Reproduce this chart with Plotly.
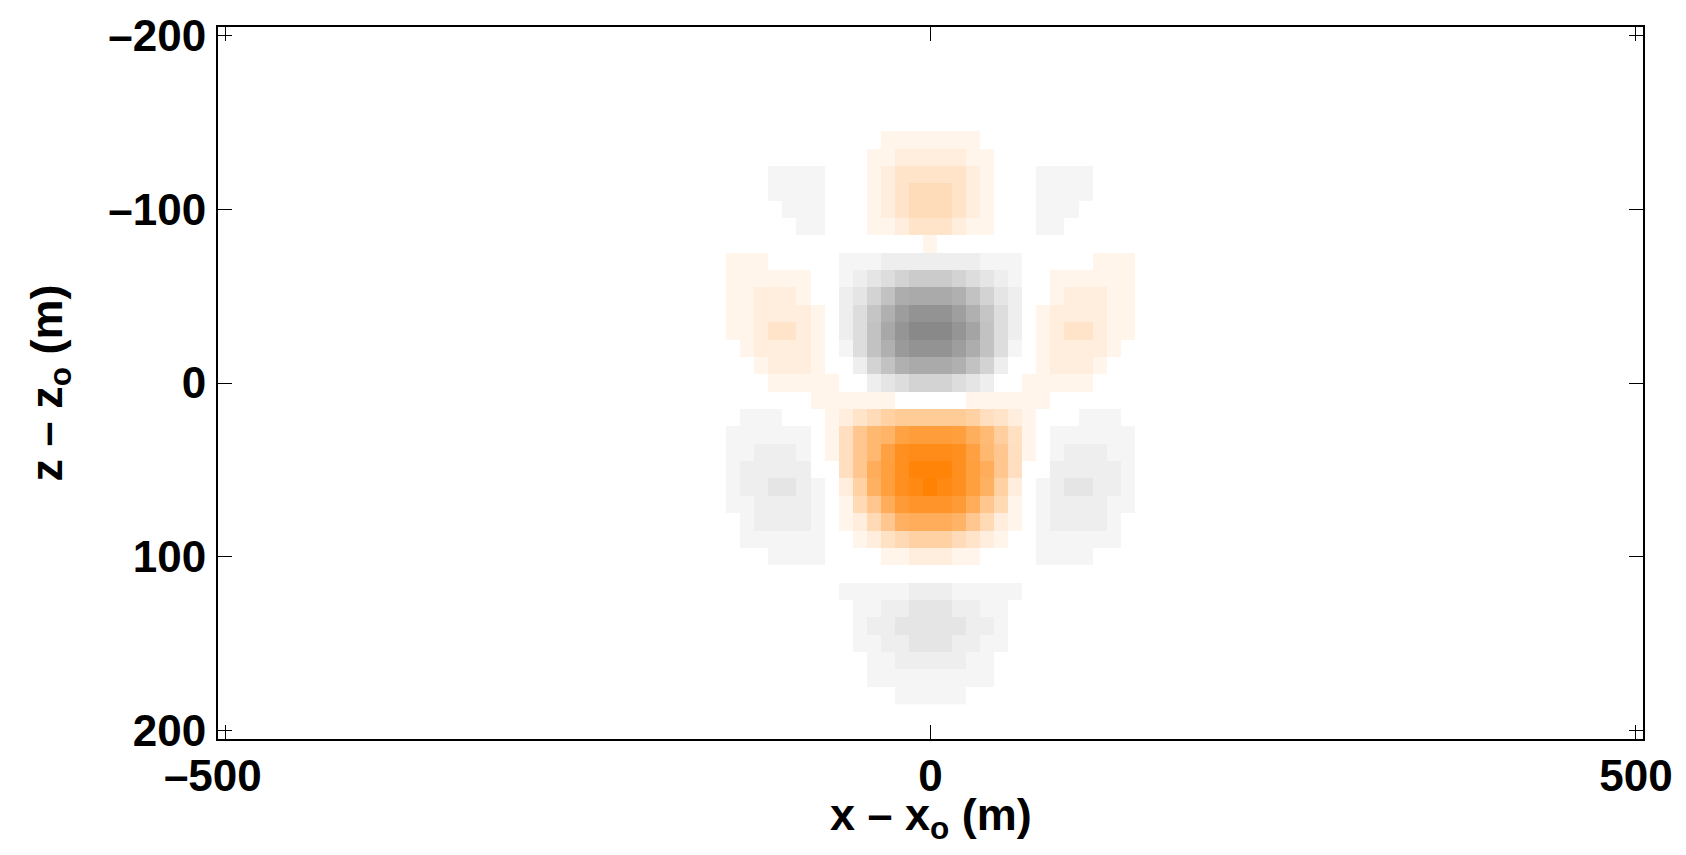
import plotly.graph_objects as go

# Colour level of each cell: positive = orange lobes, negative = grey lobes, 0 = blank
x_cells = [-140, -130, -120, -110, -100, -90, -80, -70, -60, -50, -40, -30, -20, -10, 0,
           10, 20, 30, 40, 50, 60, 70, 80, 90, 100, 110, 120, 130, 140]
z_cells = [-140, -130, -120, -110, -100, -90, -80, -70, -60, -50, -40, -30, -20, -10, 0, 10, 20,
           30, 40, 50, 60, 70, 80, 90, 100, 110, 120, 130, 140, 150, 160, 170, 180]
levels = [
 [0,0,0,0,0,0,0,0,0,0,0,10,10,10,10,10,10,10,0,0,0,0,0,0,0,0,0,0,0],
 [0,0,0,0,0,0,0,0,0,0,10,10,17,17,17,17,17,10,10,0,0,0,0,0,0,0,0,0,0],
 [0,0,0,-10,-10,-10,-10,0,0,0,10,17,27,27,27,27,27,17,10,0,0,0,-10,-10,-10,-10,0,0,0],
 [0,0,0,-10,-10,-10,-10,0,0,0,10,17,27,35,35,35,27,17,10,0,0,0,-10,-10,-10,-10,0,0,0],
 [0,0,0,0,-10,-10,-10,0,0,0,10,17,27,35,35,35,27,17,10,0,0,0,-10,-10,-10,0,0,0,0],
 [0,0,0,0,0,-10,-10,0,0,0,10,10,17,27,27,27,17,10,10,0,0,0,-10,-10,0,0,0,0,0],
 [0,0,0,0,0,0,0,0,0,0,0,0,0,0,10,0,0,0,0,0,0,0,0,0,0,0,0,0,0],
 [10,10,10,0,0,0,0,0,-10,-10,-10,-17,-17,-17,-17,-17,-17,-17,-10,-10,-10,0,0,0,0,0,10,10,10],
 [10,10,10,10,10,10,0,0,-10,-17,-26,-34,-44,-52,-52,-52,-44,-34,-26,-17,-10,0,0,10,10,10,10,10,10],
 [10,10,17,17,17,10,0,0,-17,-26,-44,-61,-82,-85,-85,-85,-79,-61,-44,-26,-17,0,0,10,17,17,17,10,10],
 [10,10,17,17,17,17,10,0,-17,-34,-58,-79,-98,-108,-108,-108,-96,-79,-58,-34,-17,0,10,17,17,17,17,10,10],
 [10,10,17,27,27,17,10,0,-17,-34,-61,-87,-106,-118,-118,-118,-106,-91,-61,-34,-17,0,10,17,27,27,17,10,10],
 [0,10,17,17,17,17,10,0,-10,-34,-61,-79,-101,-108,-108,-108,-97,-82,-61,-34,-10,0,10,17,17,17,17,10,0],
 [0,0,10,17,17,17,10,0,0,-17,-44,-61,-79,-85,-85,-85,-79,-61,-44,-17,0,0,10,17,17,17,10,0,0],
 [0,0,0,10,10,10,10,10,0,0,-17,-26,-34,-44,-44,-44,-34,-26,-17,0,0,10,10,10,10,10,0,0,0],
 [0,0,0,0,0,0,10,10,10,10,10,10,0,0,0,0,0,10,10,10,10,10,10,0,0,0,0,0,0],
 [0,-10,-10,-10,0,0,0,10,17,27,35,46,52,52,52,52,52,46,32,27,17,10,0,0,0,-10,-10,-10,0],
 [-10,-10,-10,-10,-10,-10,0,10,32,56,71,75,93,98,98,98,96,81,69,48,31,10,0,-10,-10,-10,-10,-10,-10],
 [-10,-10,-17,-17,-17,-10,0,10,32,56,71,94,111,115,115,115,111,94,71,56,32,10,0,-10,-17,-17,-17,-10,-10],
 [-10,-17,-17,-17,-17,-17,0,0,32,56,82,96,111,123,123,123,111,96,82,56,32,0,0,-17,-17,-17,-17,-17,-10],
 [-10,-17,-17,-26,-26,-17,-10,0,17,46,78,96,112,118,125,118,112,96,78,46,17,0,-10,-17,-26,-26,-17,-17,-10],
 [-10,-10,-17,-17,-17,-17,-10,0,10,37,56,82,100,106,106,106,100,82,56,37,10,0,-10,-17,-17,-17,-17,-10,-10],
 [0,-10,-17,-17,-17,-17,-10,0,10,17,37,56,79,82,82,82,76,56,37,17,10,0,-10,-17,-17,-17,-17,-10,0],
 [0,-10,-10,-10,-10,-10,-10,0,0,10,17,30,38,46,46,46,35,27,17,10,0,0,-10,-10,-10,-10,-10,-10,0],
 [0,0,0,-10,-10,-10,-10,0,0,0,0,10,10,17,17,17,10,10,0,0,0,0,-10,-10,-10,-10,0,0,0],
 [0,0,0,0,0,0,0,0,0,0,0,0,0,0,0,0,0,0,0,0,0,0,0,0,0,0,0,0,0],
 [0,0,0,0,0,0,0,0,-10,-10,-10,-10,-10,-17,-17,-17,-10,-10,-10,-10,-10,0,0,0,0,0,0,0,0],
 [0,0,0,0,0,0,0,0,0,-10,-10,-17,-17,-26,-26,-26,-17,-17,-10,-10,0,0,0,0,0,0,0,0,0],
 [0,0,0,0,0,0,0,0,0,-10,-17,-17,-26,-26,-26,-26,-26,-17,-17,-10,0,0,0,0,0,0,0,0,0],
 [0,0,0,0,0,0,0,0,0,-10,-10,-17,-17,-26,-26,-26,-17,-17,-10,-10,0,0,0,0,0,0,0,0,0],
 [0,0,0,0,0,0,0,0,0,0,-10,-10,-17,-17,-17,-17,-17,-10,-10,0,0,0,0,0,0,0,0,0,0],
 [0,0,0,0,0,0,0,0,0,0,-10,-10,-10,-10,-10,-10,-10,-10,-10,0,0,0,0,0,0,0,0,0,0],
 [0,0,0,0,0,0,0,0,0,0,0,0,-10,-10,-10,-10,-10,0,0,0,0,0,0,0,0,0,0,0,0],
]
x_ticks = [-500, 0, 500]
x_labels = ["\u2013500\u00a0\u00a0", "0", "500"]
z_ticks = [-200, -100, 0, 100, 200]
z_labels = ["\u2013200", "\u2013100", "0", "100", "200"]

FONT = "Liberation Sans"
WEIGHT = "bold"
axis_common = dict(showgrid=False, zeroline=False, showline=True, linecolor="black", linewidth=2,
                   mirror="ticks", ticks="inside", ticklen=14, tickwidth=1, tickcolor="black",
                   tickfont=dict(family=FONT, size=44, color="black", weight=WEIGHT))

fig = go.Figure(go.Heatmap(
    x=x_cells, y=z_cells, z=levels, zmin=-127, zmax=127, showscale=False, hoverongaps=False,
    colorscale=[[0, "rgb(128,128,128)"], [0.5, "rgb(255,255,255)"], [1, "rgb(255,128,0)"]],
))
fig.update_layout(
    width=1686, height=855, paper_bgcolor="white", plot_bgcolor="white",
    margin=dict(l=218, r=43, t=27, b=116, autoexpand=False),
    xaxis=dict(range=[-505, 505], tickmode="array", tickvals=x_ticks, ticktext=x_labels,
               ticklabelstandoff=-3, **axis_common),
    yaxis=dict(range=[205, -205], tickmode="array", tickvals=z_ticks, ticktext=z_labels,
               ticklabelstandoff=1,
               title=dict(text="z \u2013 z<sub>o</sub> (m)", standoff=32,
                          font=dict(family=FONT, size=45, color="black", weight=WEIGHT)),
               **axis_common),
    annotations=[dict(text="x \u2013 x<sub>o</sub> (m)", xref="paper", yref="paper", x=0.5, y=0,
                      xanchor="center", yanchor="middle", yshift=-78, showarrow=False,
                      font=dict(family=FONT, size=45, color="black", weight=WEIGHT))],
)
fig.write_html("out.html", config=dict(displayModeBar=False),
               post_script="document.body.style.margin='0';")
